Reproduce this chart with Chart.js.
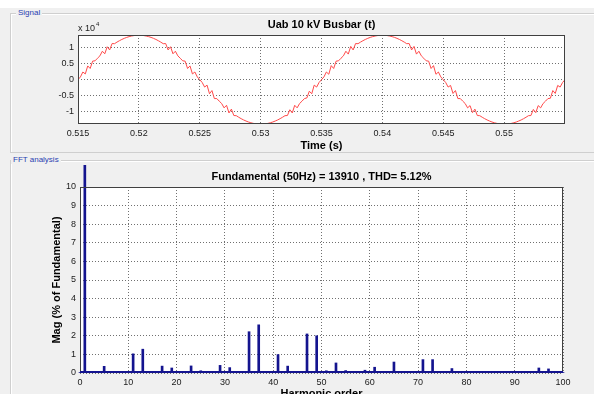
<!DOCTYPE html>
<html>
<head>
<meta charset="utf-8">
<script src="https://cdn.jsdelivr.net/npm/chart.js@4.4.1/dist/chart.umd.min.js"></script>
<style>
  body { margin: 0; width: 594px; height: 394px; overflow: hidden; background: #f0f0f0; position: relative; font-family: "Liberation Sans", Arial, sans-serif; }
  .strip { position: absolute; left: 0; top: 0; width: 594px; height: 8px; background: #fff; }
  .box { position: absolute; border: 1px solid #cfcfcf; box-shadow: inset 1px 1px 0 #fff; }
  .lbl { position: absolute; font-size: 8px; line-height: 8px; color: #2a3fb0; background: #f0f0f0; padding: 0 2px; }
  canvas { position: absolute; left: 0; }
</style>
</head>
<body>
<div class="strip"></div>
<div class="box" style="left:10px;top:13px;width:600px;height:138px"></div>
<span class="lbl" style="left:16px;top:9px">Signal</span>
<div class="box" style="left:10px;top:160px;width:600px;height:260px"></div>
<span class="lbl" style="left:11px;top:156px">FFT analysis</span>
<canvas id="sig" width="594" height="152" style="top:0"></canvas>
<canvas id="fft" width="594" height="250" style="top:150px"></canvas>
<script>
// signal, sampled every 0.2 ms from 0.515 s (values in 10^4 V)
var sampleStart = 0.515;
var sampleStep = 0.0002;
var voltage = [
  0, 0.087, 0.24, 0.18, 0.43, 0.35, 0.58, 0.59, 0.67, 0.745,
  0.89, 0.81, 1.03, 0.93, 1.13, 1.125, 1.174, 1.218, 1.258, 1.292,
  1.322, 1.346, 1.365, 1.379, 1.387, 1.39, 1.387, 1.379, 1.365, 1.346,
  1.322, 1.292, 1.258, 1.218, 1.174, 1.125, 1.13, 0.93, 1.03, 0.81,
  0.89, 0.745, 0.67, 0.59, 0.58, 0.35, 0.43, 0.18, 0.24, 0.087,
  0, -0.087, -0.23, -0.17, -0.44, -0.34, -0.59, -0.59, -0.67, -0.745,
  -0.88, -0.80, -1.04, -0.92, -1.12, -1.125, -1.174, -1.218, -1.258, -1.292,
  -1.322, -1.346, -1.365, -1.379, -1.387, -1.39, -1.387, -1.379, -1.365, -1.346,
  -1.322, -1.292, -1.258, -1.218, -1.174, -1.125, -1.12, -0.94, -1.04, -0.80,
  -0.88, -0.745, -0.67, -0.59, -0.57, -0.36, -0.44, -0.17, -0.23, -0.087,
  0, 0.087, 0.24, 0.17, 0.44, 0.35, 0.58, 0.59, 0.67, 0.745,
  0.89, 0.80, 1.04, 0.93, 1.13, 1.125, 1.174, 1.218, 1.258, 1.292,
  1.322, 1.346, 1.365, 1.379, 1.387, 1.39, 1.387, 1.379, 1.365, 1.346,
  1.322, 1.292, 1.258, 1.218, 1.174, 1.125, 1.13, 0.93, 1.04, 0.80,
  0.89, 0.745, 0.67, 0.59, 0.58, 0.35, 0.44, 0.17, 0.24, 0.087,
  0, -0.087, -0.23, -0.18, -0.43, -0.34, -0.59, -0.59, -0.67, -0.745,
  -0.88, -0.81, -1.03, -0.92, -1.12, -1.125, -1.174, -1.218, -1.258, -1.292,
  -1.322, -1.346, -1.365, -1.379, -1.387, -1.39, -1.387, -1.379, -1.365, -1.346,
  -1.322, -1.292, -1.258, -1.218, -1.174, -1.125, -1.12, -0.93, -1.03, -0.81,
  -0.88, -0.745, -0.67, -0.59, -0.58, -0.34, -0.43, -0.18, -0.23, -0.087,
  0
];
var timeTicks = [0.515, 0.52, 0.525, 0.53, 0.535, 0.54, 0.545, 0.55];
var voltTicks = [-1, -0.5, 0, 0.5, 1];

// harmonic magnitude, % of fundamental, orders 0..100
var harmonicMag = [
  0.02, 100, 0.02, 0.03, 0.02, 0.36, 0.02, 0.04, 0.02, 0.03,
  0.02, 1.03, 0.02, 1.28, 0.02, 0.03, 0.02, 0.37, 0.02, 0.27,
  0.02, 0.03, 0.02, 0.38, 0.02, 0.12, 0.02, 0.03, 0.02, 0.41,
  0.02, 0.29, 0.02, 0.03, 0.02, 2.22, 0.02, 2.59, 0.02, 0.04,
  0.02, 0.99, 0.02, 0.37, 0.02, 0.03, 0.02, 2.10, 0.02, 2.00,
  0.02, 0.12, 0.02, 0.54, 0.02, 0.13, 0.02, 0.08, 0.02, 0.15,
  0.02, 0.31, 0.02, 0.03, 0.02, 0.59, 0.02, 0.03, 0.02, 0.09,
  0.02, 0.72, 0.02, 0.72, 0.02, 0.03, 0.02, 0.24, 0.02, 0.03,
  0.02, 0.03, 0.02, 0.05, 0.02, 0.05, 0.02, 0.03, 0.02, 0.09,
  0.02, 0.04, 0.02, 0.03, 0.02, 0.27, 0.02, 0.22, 0.02, 0.03,
  0.02
];
var harmonicTicks = [0, 10, 20, 30, 40, 50, 60, 70, 80, 90, 100];
var magTicks = [0, 1, 2, 3, 4, 5, 6, 7, 8, 9, 10];

var FONT = '"Liberation Sans", Arial, sans-serif';

// white axes box, frame and the matlab-ish texts
var panel = {
  id: 'panel',
  beforeDraw: function(chart) {
    var a = chart.chartArea, ctx = chart.ctx;
    ctx.save();
    ctx.fillStyle = '#fff';
    ctx.fillRect(a.left, a.top, a.right - a.left, a.bottom - a.top);
    ctx.restore();
  },
  afterDraw: function(chart, args, o) {
    var a = chart.chartArea, ctx = chart.ctx;
    var cx = (a.left + a.right) / 2;
    ctx.save();
    ctx.strokeStyle = '#404040';
    ctx.lineWidth = 1;
    ctx.strokeRect(a.left + 0.5, a.top + 0.5, a.right - a.left - 1, a.bottom - a.top - 1);
    if (o.baseline) {
      var y0 = chart.scales.y.getPixelForValue(0);
      ctx.strokeStyle = o.baseline;
      ctx.lineWidth = 2;
      ctx.beginPath();
      ctx.moveTo(a.left, y0 - 1);
      ctx.lineTo(a.right, y0 - 1);
      ctx.stroke();
    }
    ctx.fillStyle = '#000';
    ctx.textAlign = 'center';
    ctx.font = 'bold 11px ' + FONT;
    ctx.fillText(o.title, cx, o.titleY);
    ctx.fillText(o.xTitle, cx, o.xTitleY);
    if (o.yTitle) {
      ctx.save();
      ctx.translate(o.yTitleX, (a.top + a.bottom) / 2);
      ctx.rotate(-Math.PI / 2);
      ctx.fillText(o.yTitle, 0, 0);
      ctx.restore();
    }
    if (o.exponent) {
      ctx.textAlign = 'left';
      ctx.font = '9px ' + FONT;
      ctx.fillStyle = '#222';
      ctx.fillText('x 10', a.left, 31);
      var w = ctx.measureText('x 10').width;
      ctx.font = '6px ' + FONT;
      ctx.fillText(o.exponent, a.left + w + 1, 26);
    }
    ctx.restore();
  }
};

function axis(min, max, list) {
  return {
    type: 'linear',
    min: min,
    max: max,
    offset: false,
    afterBuildTicks: function(s) { s.ticks = list.map(function(v) { return { value: v }; }); },
    ticks: {
      autoSkip: false,
      maxRotation: 0,
      padding: 4,
      color: '#1a1a1a',
      font: { family: FONT, size: 9 },
      callback: function(v) { return String(v); }
    },
    grid: { color: '#707070', drawTicks: false, tickLength: 0, offset: false },
    border: { display: false, dash: [1, 2] }
  };
}

var sx = axis(0.515, 0.555, timeTicks);
sx.afterFit = function(s) { s.height = 28; };
var sy = axis(-1.385, 1.397, voltTicks);
sy.afterFit = function(s) { s.width = 78; };

new Chart(document.getElementById('sig'), {
  type: 'line',
  data: {
    datasets: [{
      data: voltage.map(function(v, i) { return { x: +(sampleStart + i * sampleStep).toFixed(4), y: v }; }),
      borderColor: '#ff4a4a',
      borderWidth: 1,
      pointRadius: 0,
      tension: 0
    }]
  },
  options: {
    responsive: false,
    animation: false,
    layout: { padding: { top: 35, right: 29, left: 0, bottom: 0 } },
    scales: { x: sx, y: sy },
    plugins: {
      legend: { display: false },
      title: { display: false },
      tooltip: { enabled: false },
      panel: { title: 'Uab 10 kV Busbar (t)', titleY: 28, xTitle: 'Time (s)', xTitleY: 149, exponent: '4' }
    }
  },
  plugins: [panel]
});

var fx = axis(0, 100, harmonicTicks);
fx.afterFit = function(s) { s.height = 27; };
var fy = axis(0, 10, magTicks);
fy.afterFit = function(s) { s.width = 80; };

new Chart(document.getElementById('fft'), {
  type: 'bar',
  data: {
    datasets: [{
      data: harmonicMag.map(function(v, i) { return { x: i, y: v }; }),
      backgroundColor: '#14148f',
      barThickness: 2,
      clip: { left: 2, top: 22, right: 2, bottom: 0 }
    }]
  },
  options: {
    responsive: false,
    animation: false,
    layout: { padding: { top: 37, right: 31, left: 0, bottom: 0 } },
    scales: { x: fx, y: fy },
    plugins: {
      legend: { display: false },
      title: { display: false },
      tooltip: { enabled: false },
      panel: {
        title: 'Fundamental (50Hz) = 13910 , THD= 5.12%', titleY: 30,
        xTitle: 'Harmonic order', xTitleY: 247,
        yTitle: 'Mag (% of Fundamental)', yTitleX: 60,
        baseline: '#14148f'
      }
    }
  },
  plugins: [panel]
});
</script>
</body>
</html>
